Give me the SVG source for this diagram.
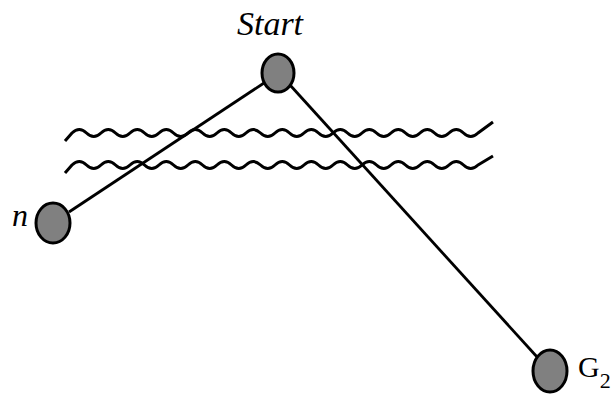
<svg xmlns="http://www.w3.org/2000/svg" width="614" height="394" viewBox="0 0 614 394">
<style>
.edge{stroke:#000;stroke-width:2.8;fill:none}
.wave{stroke:#000;stroke-width:3;fill:none;stroke-linejoin:round}
.node{fill:#808080;stroke:#000;stroke-width:3}
.lbl{font-family:"Liberation Serif","Times New Roman",serif;fill:#000}
</style>
<rect width="614" height="394" fill="#fff"/>
<g id="connectors">
<line class="edge" x1="264" y1="83" x2="69" y2="212"/>
<line class="edge" x1="290" y1="85" x2="538" y2="358"/>
</g>
<g id="breaks">
<path class="wave" d="M65,141 L72,133 q7.25,-7 14.5,0 t14.5,0 t14.5,0 t14.5,0 t14.5,0 t14.5,0 t14.5,0 t14.5,0 t14.5,0 t14.5,0 t14.5,0 t14.5,0 t14.5,0 t14.5,0 t14.5,0 t14.5,0 t14.5,0 t14.5,0 t14.5,0 t14.5,0 t14.5,0 t14.5,0 t14.5,0 t14.5,0 t14.5,0 t14.5,0 t14.5,0 t14.5,0 L493,122"/>
<path class="wave" d="M65,173 L72,165 q7.25,-7 14.5,0 t14.5,0 t14.5,0 t14.5,0 t14.5,0 t14.5,0 t14.5,0 t14.5,0 t14.5,0 t14.5,0 t14.5,0 t14.5,0 t14.5,0 t14.5,0 t14.5,0 t14.5,0 t14.5,0 t14.5,0 t14.5,0 t14.5,0 t14.5,0 t14.5,0 t14.5,0 t14.5,0 t14.5,0 t14.5,0 t14.5,0 t14.5,0 L493,156"/>
</g>
<g id="start">
<ellipse class="node" cx="278" cy="73" rx="16" ry="19"/>
<text class="lbl" x="270" y="35" font-size="34" font-style="italic" text-anchor="middle">Start</text>
</g>
<g id="n">
<ellipse class="node" cx="53" cy="223" rx="17" ry="20"/>
<text class="lbl" x="20" y="226" font-size="32" font-style="italic" text-anchor="middle">n</text>
</g>
<g id="g2">
<ellipse class="node" cx="550" cy="371" rx="17" ry="21"/>
<text class="lbl" x="578" y="377" font-size="30">G<tspan font-size="22" dy="11">2</tspan></text>
</g>
</svg>
